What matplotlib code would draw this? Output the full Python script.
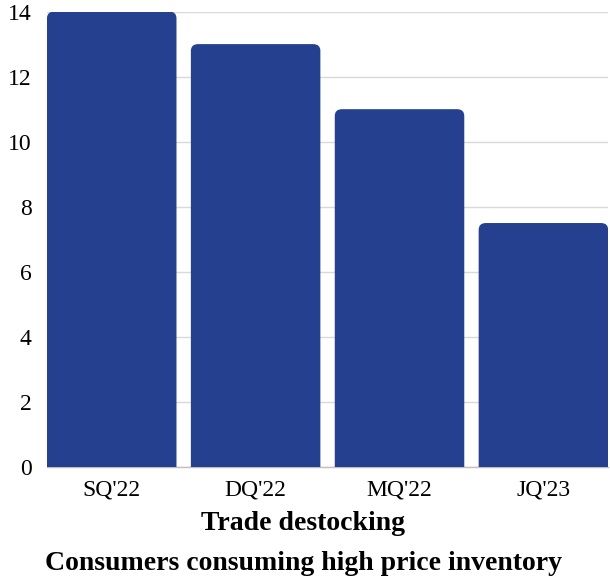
import numpy as np
import matplotlib.pyplot as plt
from matplotlib.patches import PathPatch
from matplotlib.path import Path

plt.rcParams['font.family'] = ['Liberation Serif', 'DejaVu Serif']

quarters = ["SQ'22", "DQ'22", "MQ'22", "JQ'23"]
values = [14, 13, 11, 7.5]
y_ticks = [0, 2, 4, 6, 8, 10, 12, 14]

bar_color = '#24408e'
bar_width = 0.9


def top_rounded_bar(x0, w, h, rx, ry):
    x1 = x0 + w
    verts = [(x0, 0), (x0, h - ry), (x0, h), (x0 + rx, h),
             (x1 - rx, h), (x1, h), (x1, h - ry), (x1, 0), (x0, 0)]
    codes = [Path.MOVETO, Path.LINETO, Path.CURVE3, Path.CURVE3,
             Path.LINETO, Path.CURVE3, Path.CURVE3, Path.LINETO, Path.CLOSEPOLY]
    return Path(verts, codes)


fig = plt.figure(figsize=(6.1, 5.79), dpi=100)
ax = fig.add_axes([0.077, 0.1934, 0.92, 0.7866])

ax.set_xlim(-0.45, len(quarters) - 0.55)
ax.set_ylim(0, 14)

# corner radius about 7 px in each direction
rx = 0.05
ry = 0.21
for i, v in enumerate(values):
    p = top_rounded_bar(i - bar_width / 2, bar_width, v, rx, ry)
    ax.add_patch(PathPatch(p, facecolor=bar_color, edgecolor='none', zorder=3))

ax.set_xticks(range(len(quarters)))
ax.set_xticklabels(quarters, fontsize=17)
ax.set_yticks(y_ticks)
ax.set_yticklabels([str(t) for t in y_ticks], fontsize=17)
ax.tick_params(axis='both', length=0)
ax.tick_params(axis='x', pad=9)
ax.tick_params(axis='y', pad=11)

ax.grid(axis='y', color='#d9d9d9', linewidth=1, zorder=0)
ax.set_axisbelow(True)
for side in ['top', 'right', 'left']:
    ax.spines[side].set_visible(False)
ax.spines['bottom'].set_color('#bfbfbf')
ax.spines['bottom'].set_linewidth(1)

fig.text(0.497, 1 - 523 / 579, 'Trade destocking', ha='center', va='center',
         fontsize=20, fontweight='bold')
fig.text(0.497, 1 - 563 / 579, 'Consumers consuming high price inventory',
         ha='center', va='center', fontsize=20, fontweight='bold')

fig.savefig('out.png', dpi=100)
